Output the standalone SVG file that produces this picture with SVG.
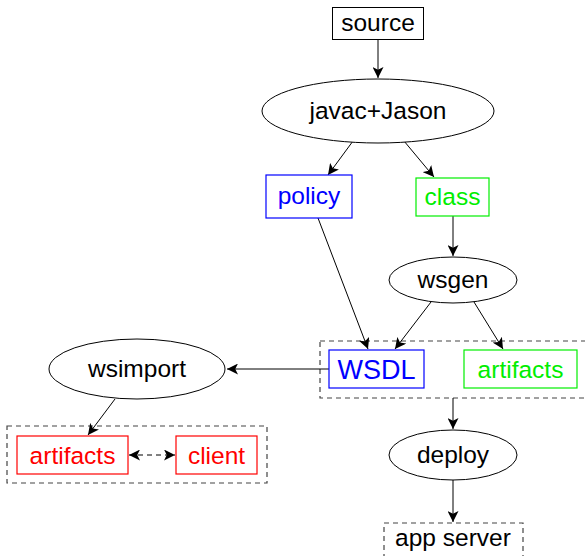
<svg xmlns="http://www.w3.org/2000/svg" width="585" height="556" viewBox="0 0 585 556">
  <defs>
    <marker id="arrow" viewBox="0 0 10 10" refX="10" refY="5" markerWidth="11" markerHeight="11" markerUnits="userSpaceOnUse" orient="auto-start-reverse">
      <path d="M0,0 L10,5 L0,10 L2.5,5 Z" fill="#000"/>
    </marker>
    <style>
      text { font-family: "Liberation Sans", "DejaVu Sans", sans-serif; font-size: 24.5px; text-anchor: middle; }
      .node { fill: #fff; stroke: #000; stroke-width: 1; }
      .blue { fill: #fff; stroke: #0000ff; stroke-width: 1.2; }
      .green { fill: #fff; stroke: #00ee00; stroke-width: 1.2; }
      .red { fill: #fff; stroke: #ff0000; stroke-width: 1.2; }
      .group { fill: none; stroke: #444; stroke-width: 1.2; stroke-dasharray: 5 4; }
      .edge { fill: none; stroke: #000; stroke-width: 1; marker-end: url(#arrow); }
      .tb { fill: #0000ff; }
      .tg { fill: #00ee00; }
      .tr { fill: #ff0000; }
      .tk { fill: #000; }
    </style>
  </defs>

  <!-- clusters -->
  <g id="cluster-build">
    <rect class="group" x="320" y="341" width="270" height="57"/>
  </g>
  <g id="cluster-client">
    <rect class="group" x="7" y="426" width="260" height="57"/>
  </g>

  <!-- connectors -->
  <g id="edges">
    <line class="edge" x1="378" y1="39" x2="378" y2="78"/>
    <line class="edge" x1="353" y1="141" x2="328" y2="175"/>
    <line class="edge" x1="404" y1="141" x2="434" y2="177"/>
    <line class="edge" x1="453" y1="216" x2="453" y2="256"/>
    <line class="edge" x1="318" y1="218" x2="368" y2="349"/>
    <line class="edge" x1="431" y1="302" x2="395" y2="349"/>
    <line class="edge" x1="474" y1="302" x2="503" y2="349"/>
    <line class="edge" x1="329" y1="369" x2="227" y2="369"/>
    <line class="edge" x1="115" y1="399" x2="88" y2="435"/>
    <line class="edge" x1="453" y1="398" x2="453" y2="429"/>
    <line class="edge" x1="453" y1="480" x2="453" y2="522"/>
    <line x1="129" y1="455" x2="175" y2="455" stroke="#000" stroke-width="1" stroke-dasharray="5 4" marker-start="url(#arrow)" marker-end="url(#arrow)"/>
  </g>

  <g id="source">
    <rect class="node" x="332.5" y="7.5" width="91" height="32"/>
    <text class="tk" x="378" y="31">source</text>
  </g>
  <g id="javac">
    <ellipse class="node" cx="378" cy="111" rx="116" ry="32"/>
    <text class="tk" x="378" y="119">javac+Jason</text>
  </g>
  <g id="policy">
    <rect class="blue" x="266" y="175" width="86" height="43"/>
    <text class="tb" x="309" y="204">policy</text>
  </g>
  <g id="class">
    <rect class="green" x="416" y="178" width="73" height="38"/>
    <text class="tg" x="452.5" y="205">class</text>
  </g>
  <g id="wsgen">
    <ellipse class="node" cx="453" cy="280" rx="64" ry="23"/>
    <text class="tk" x="453" y="288">wsgen</text>
  </g>
  <g id="wsdl">
    <rect class="blue" x="329" y="350" width="95" height="38"/>
    <text class="tb" x="376.5" y="379" style="font-size:27px">WSDL</text>
  </g>
  <g id="artifacts-server">
    <rect class="green" x="464" y="350" width="113" height="38"/>
    <text class="tg" x="520.5" y="378">artifacts</text>
  </g>
  <g id="wsimport">
    <ellipse class="node" cx="137" cy="369" rx="88" ry="30"/>
    <text class="tk" x="137" y="377">wsimport</text>
  </g>
  <g id="artifacts-client">
    <rect class="red" x="17" y="436" width="111" height="38"/>
    <text class="tr" x="72.5" y="464">artifacts</text>
  </g>
  <g id="client">
    <rect class="red" x="176" y="436" width="81" height="38"/>
    <text class="tr" x="216.5" y="464">client</text>
  </g>
  <g id="deploy">
    <ellipse class="node" cx="453" cy="455" rx="64" ry="25"/>
    <text class="tk" x="453" y="463">deploy</text>
  </g>
  <g id="app-server">
    <rect class="group" x="384" y="523" width="139" height="50"/>
    <text class="tk" x="453" y="546">app server</text>
  </g>
</svg>
